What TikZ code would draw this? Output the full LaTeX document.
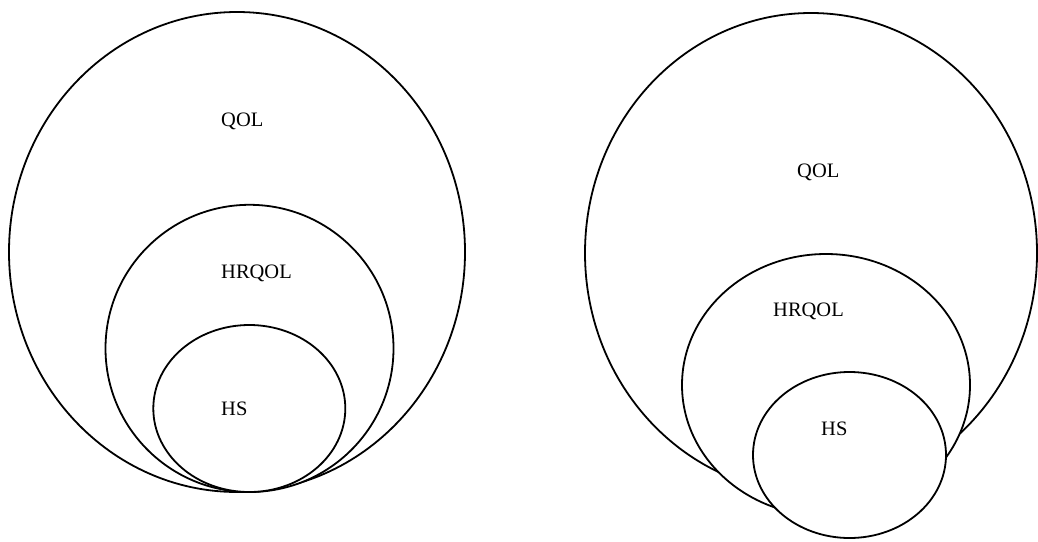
\documentclass[tikz,border=0pt]{standalone}
\usepackage{fontspec}
\setmainfont{Liberation Serif}
\begin{document}
\begin{tikzpicture}[x=1pt,y=-1pt,
  ring/.style={draw=black,fill=white,line width=1.8pt},
  lbl/.style={inner sep=0pt,anchor=base west,font=\fontsize{20.5}{24}\selectfont}]
\useasboundingbox (0,0) rectangle (1038,541);
% left diagram
\draw[ring] (237,252) ellipse [x radius=228,y radius=240];
\draw[ring] (249.5,348.4) ellipse [x radius=144,y radius=143.6];
\draw[ring] (249.3,408.5) ellipse [x radius=96,y radius=83.5];
\node[lbl] (qolL) at (221,126) {QOL};
\node[lbl] (hrqolL) at (221,278) {HRQOL};
\node[lbl] (hsL) at (221,415) {HS};
% right diagram
\draw[ring] (811,253) ellipse [x radius=226,y radius=240];
\draw[ring] (826,385) ellipse [x radius=144,y radius=131];
\draw[ring] (849.5,455) ellipse [x radius=96.5,y radius=83];
\node[lbl] (qolR) at (797,177) {QOL};
\node[lbl] (hrqolR) at (773,316) {HRQOL};
\node[lbl] (hsR) at (821,435) {HS};
\end{tikzpicture}
\end{document}
